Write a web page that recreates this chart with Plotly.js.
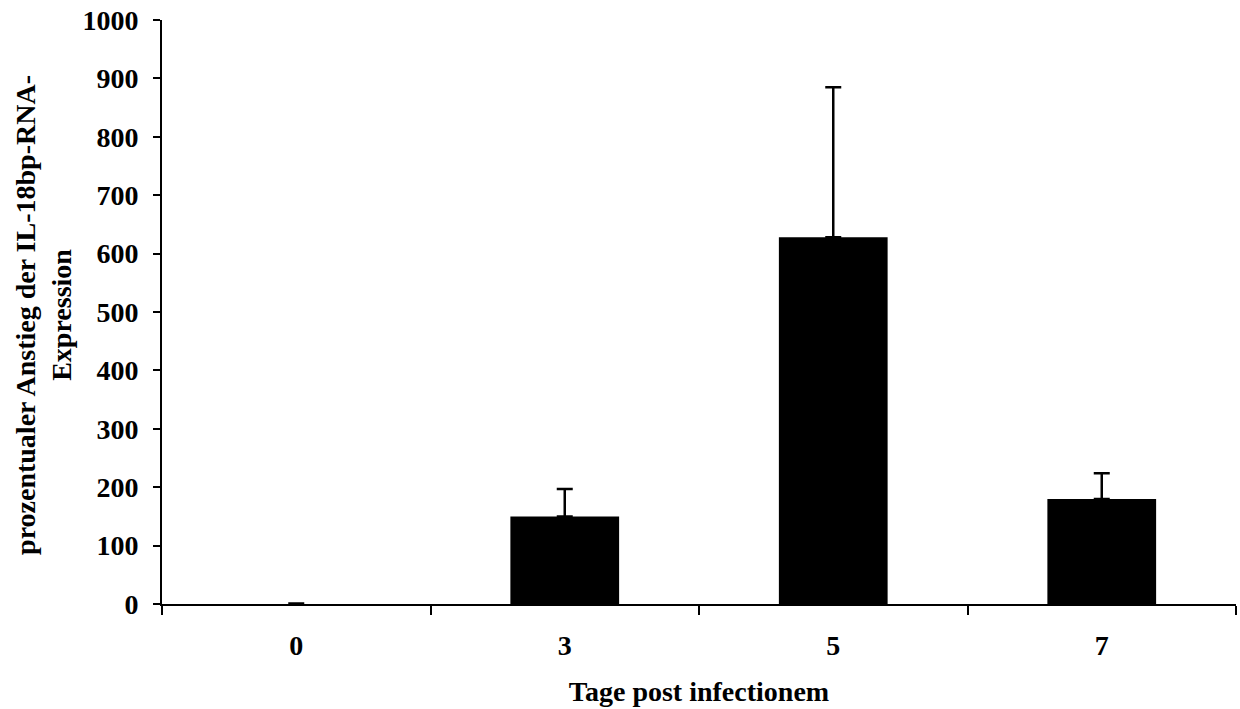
<!DOCTYPE html>
<html>
<head>
<meta charset="utf-8">
<script src="https://cdn.plot.ly/plotly-3.0.1.min.js"></script>
<style>html,body{margin:0;padding:0;background:#fff;}#chart{width:1240px;height:709px;}</style>
</head>
<body>
<div id="chart"></div>
<script>
const categories = ["0", "3", "5", "7"];
const values = [0, 150, 628, 180];
const errorsPlus = [1, 47, 257, 44];
const yTickValues = [0, 100, 200, 300, 400, 500, 600, 700, 800, 900, 1000];
const xTitle = "Tage post infectionem";
const yTitle = "prozentualer Anstieg der IL-18bp-RNA-<br>Expression";

const fam = "Liberation Serif, Times New Roman, serif";
const fsize = 28;

const trace = {
  type: "bar",
  x: categories,
  y: values,
  marker: {color: "#000", line: {width: 0}},
  width: 0.405,
  error_y: {type: "data", symmetric: false, array: errorsPlus, arrayminus: values.map(() => 0), color: "#000", thickness: 2.5, width: 8},
  hoverinfo: "none"
};

const layout = {
  width: 1240, height: 709,
  margin: {l: 162, r: 4, t: 20, b: 105},
  paper_bgcolor: "#fff", plot_bgcolor: "#fff",
  font: {family: fam, size: fsize, color: "#000"},
  showlegend: false,
  xaxis: {
    type: "category",
    tickson: "boundaries",
    ticks: "outside", ticklen: 9, tickwidth: 2, tickcolor: "#000",
    showline: true, linecolor: "#000", linewidth: 2,
    showgrid: false, zeroline: false,
    tickfont: {family: fam, size: fsize, color: "#000", weight: "bold"},
    ticklabelstandoff: 15,
    title: {text: "<b>" + xTitle + "</b>", font: {family: fam, size: fsize, color: "#000"}, standoff: 22},
    automargin: false
  },
  yaxis: {
    range: [0, 1000],
    tickvals: yTickValues,
    ticktext: yTickValues.map(String),
    ticks: "outside", ticklen: 7, tickwidth: 2, tickcolor: "#000",
    showline: true, linecolor: "#000", linewidth: 2,
    showgrid: false, zeroline: false,
    tickfont: {family: fam, size: fsize, color: "#000", weight: "bold"},
    ticklabelstandoff: 9,
    automargin: false
  },
  annotations: [{
    text: "<b>" + yTitle + "</b>",
    textangle: -90,
    xref: "paper", yref: "paper",
    x: -0.1099, y: 0.4949,
    xanchor: "center", yanchor: "middle",
    showarrow: false,
    align: "center",
    font: {family: fam, size: fsize, color: "#000"}
  }]
};

Plotly.newPlot("chart", [trace], layout, {displayModeBar: false, staticPlot: true});
</script>
</body>
</html>
